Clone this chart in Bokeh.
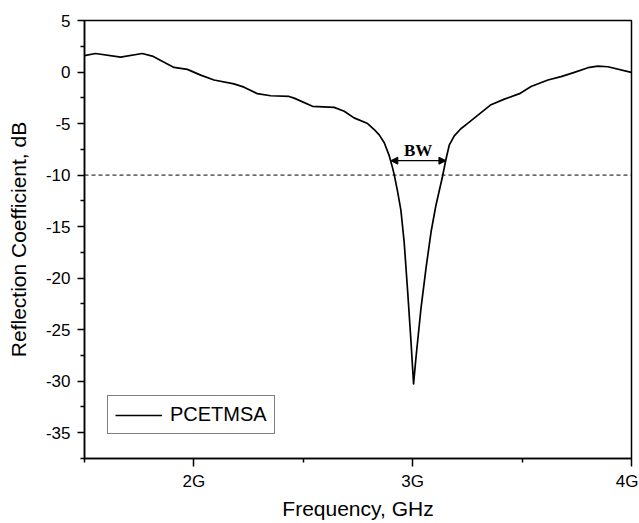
from bokeh.plotting import figure
from bokeh.models import (Range1d, FixedTicker, Span, Arrow, NormalHead, Label,
                          Legend, LegendItem, ColumnDataSource)
from bokeh.embed import file_html
from bokeh.resources import INLINE

# ---- data ----
freq_ghz = [1.500, 1.550, 1.665, 1.764, 1.810, 1.909, 1.970, 2.031, 2.092, 2.183,
            2.229, 2.290, 2.351, 2.435, 2.458, 2.542, 2.641, 2.687, 2.732, 2.794,
            2.824, 2.847, 2.870, 2.893, 2.908, 2.916, 2.931, 2.946, 2.961, 2.977,
            2.992, 3.004, 3.015, 3.038, 3.061, 3.084, 3.106, 3.137, 3.152, 3.167,
            3.190, 3.220, 3.250, 3.274, 3.358, 3.419, 3.488, 3.541, 3.618, 3.678,
            3.739, 3.801, 3.846, 3.892, 3.999]
s11_db = [1.60, 1.80, 1.45, 1.80, 1.55, 0.45, 0.26, -0.30, -0.77, -1.15,
          -1.47, -2.10, -2.30, -2.37, -2.53, -3.33, -3.43, -3.80, -4.45, -5.00,
          -5.58, -6.10, -6.86, -8.14, -9.30, -10.00, -11.60, -13.40, -16.50, -21.30,
          -26.10, -30.26, -27.70, -22.90, -19.00, -15.50, -12.95, -10.06, -8.46, -7.10,
          -6.20, -5.50, -5.00, -4.60, -3.17, -2.63, -2.10, -1.41, -0.77, -0.45,
          -0.03, 0.42, 0.58, 0.51, -0.03]

x_major_ticks = [2, 3, 4]
x_tick_labels = ["2G", "3G", "4G"]
x_minor_ticks = [1.5, 2.5, 3.5]
y_major_ticks = [-35, -30, -25, -20, -15, -10, -5, 0, 5]
y_tick_labels = ["-35", "-30", "-25", "-20", "-15", "-10", "-5", "0", "5"]
y_minor_ticks = [-37.5, -32.5, -27.5, -22.5, -17.5, -12.5, -7.5, -2.5, 2.5]

threshold_db = -10
bw_start_ghz = 2.90
bw_end_ghz = 3.152
bw_level_db = -8.6
bw_text = "BW"
bw_text_x = 3.025
bw_text_y = -7.6
series_name = "PCETMSA"

FONT = "Liberation Sans"

p = figure(width=638, height=522, output_backend="svg", toolbar_location=None,
           x_range=Range1d(1.5, 4), y_range=Range1d(-37.5, 5),
           min_border_left=84, min_border_right=7, min_border_top=20,
           min_border_bottom=59)
p.background_fill_color = "white"
p.border_fill_color = "white"
p.outline_line_color = "black"
p.outline_line_width = 1.5
p.xgrid.visible = False
p.ygrid.visible = False

src = ColumnDataSource(dict(f=freq_ghz, s=s11_db))
r = p.line("f", "s", source=src, line_color="black", line_width=1.7,
           line_join="round")

p.add_layout(Span(location=threshold_db, dimension="width", line_color="black",
                  line_width=1, line_dash="4 3"))

p.add_layout(Arrow(start=NormalHead(size=7, fill_color="black", line_color="black"),
                   end=NormalHead(size=7, fill_color="black", line_color="black"),
                   x_start=bw_start_ghz, y_start=bw_level_db,
                   x_end=bw_end_ghz, y_end=bw_level_db,
                   line_color="black", line_width=1.2))
p.add_layout(Label(x=bw_text_x, y=bw_text_y, text=bw_text, text_font="Liberation Serif",
                   text_font_style="bold", text_font_size="17px", text_align="center",
                   text_baseline="middle", text_color="black"))

# axes
xa = p.xaxis[0]
xa.ticker = FixedTicker(ticks=x_major_ticks, minor_ticks=x_minor_ticks)
xa.major_label_overrides = {t: l for t, l in zip(x_major_ticks, x_tick_labels)}
xa.axis_label = "Frequency, GHz"
ya = p.yaxis[0]
ya.ticker = FixedTicker(ticks=y_major_ticks, minor_ticks=y_minor_ticks)
ya.major_label_overrides = {t: l for t, l in zip(y_major_ticks, y_tick_labels)}
ya.axis_label = "Reflection Coefficient, dB"

for ax in (xa, ya):
    ax.axis_line_color = "black"
    ax.axis_line_width = 1.5
    ax.major_tick_line_color = "black"
    ax.major_tick_line_width = 1.5
    ax.minor_tick_line_color = "black"
    ax.minor_tick_line_width = 1.5
    ax.major_tick_in = 0
    ax.minor_tick_in = 0
    ax.major_tick_out = 8
    ax.minor_tick_out = 4
    ax.major_label_text_font = FONT
    ax.major_label_text_font_size = "17px"
    ax.major_label_text_color = "black"
    ax.axis_label_text_font = FONT
    ax.axis_label_text_font_size = "21px"
    ax.axis_label_text_font_style = "normal"
    ax.axis_label_text_color = "black"

ya.major_tick_out = 7
xa.major_label_standoff = 5
xa.axis_label_standoff = 3
ya.major_label_standoff = 7
ya.axis_label_standoff = 13

legend = Legend(items=[LegendItem(label=series_name, renderers=[r])],
                location=(23, 24), label_text_font=FONT, label_text_font_size="20px",
                label_text_color="black", glyph_width=47, glyph_height=20,
                label_height=20, label_standoff=8, padding=7, margin=0, spacing=0,
                border_line_color="black", border_line_width=1.2,
                background_fill_alpha=1.0)
p.add_layout(legend)

open("out.html", "w").write(file_html(p, INLINE))
